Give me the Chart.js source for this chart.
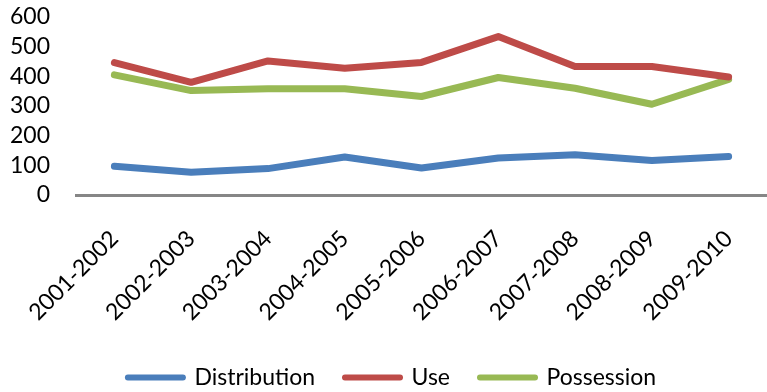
<!doctype html>
<html lang="en">
    <head>
        <meta charset="utf-8">
        <title>Offences by year</title>
        <script src="https://cdn.jsdelivr.net/npm/chart.js@4.4.1/dist/chart.umd.min.js"></script>
        <style>
            body { margin: 0; background: #fff; }
            #wrap { width: 767px; height: 392px; }
        </style>
    </head>
    <body>
        <div id="wrap"><canvas id="myChart"></canvas></div>
        <script>
            var years = ["2001-2002", "2002-2003", "2003-2004", "2004-2005", "2005-2006",
                         "2006-2007", "2007-2008", "2008-2009", "2009-2010"];
            var distribution = [97, 77, 89, 128, 91, 125, 136, 116, 130];
            var use = [446, 380, 452, 427, 447, 534, 433, 433, 398];
            var possession = [405, 352, 358, 358, 332, 396, 360, 306, 390];
            var yTicks = [0, 100, 200, 300, 400, 500, 600];

            var font = "Lato";

            function line(label, data, color) {
                return {
                    label: label,
                    data: data,
                    borderColor: color,
                    backgroundColor: color,
                    borderWidth: 7,
                    pointRadius: 0,
                    pointHoverRadius: 0,
                    tension: 0,
                    fill: false,
                    borderJoinStyle: "round",
                    borderCapStyle: "round"
                };
            }

            var ctx = document.getElementById("myChart").getContext("2d");
            var myChart = new Chart(ctx, {
                type: "line",
                data: {
                    labels: years,
                    datasets: [
                        line("Distribution", distribution, "#4a7ebb"),
                        line("Use", use, "#be4b48"),
                        line("Possession", possession, "#98b954")
                    ]
                },
                options: {
                    responsive: true,
                    maintainAspectRatio: false,
                    animation: false,
                    layout: { padding: { top: 0, left: 10, right: -7, bottom: -7 } },
                    scales: {
                        x: {
                            offset: true,
                            // fixed band for the slanted year labels
                            afterFit: function (scale) {
                                scale.paddingLeft = 0;
                                scale.paddingRight = 0;
                                scale.height = 141;
                            },
                            grid: { display: false, drawTicks: false },
                            border: { display: true, color: "#868686", width: 3 },
                            ticks: {
                                color: "#000",
                                font: { family: font, size: 23 },
                                minRotation: 45,
                                maxRotation: 45,
                                padding: 30,
                                autoSkip: false
                            }
                        },
                        y: {
                            min: 0,
                            max: 600,
                            afterBuildTicks: function (axis) {
                                axis.ticks = yTicks.map(function (v) { return { value: v }; });
                            },
                            afterFit: function (scale) {
                                scale.width = 66;
                                scale.paddingTop = 17;
                                scale.paddingBottom = 0;
                            },
                            grid: { display: false, drawTicks: false },
                            border: { display: false },
                            ticks: {
                                color: "#000",
                                font: { family: font, size: 23 },
                                padding: 26,
                                autoSkip: false
                            }
                        }
                    },
                    plugins: {
                        tooltip: { enabled: false },
                        legend: {
                            position: "bottom",
                            labels: {
                                color: "#000",
                                font: { family: font, size: 23 },
                                usePointStyle: true,
                                pointStyle: "line",
                                pointStyleWidth: 55,
                                padding: 30,
                                generateLabels: function (chart) {
                                    return chart.data.datasets.map(function (ds, i) {
                                        return {
                                            text: ds.label,
                                            fillStyle: ds.borderColor,
                                            strokeStyle: ds.borderColor,
                                            lineWidth: 6,
                                            lineCap: "round",
                                            pointStyle: "line",
                                            fontColor: "#000",
                                            hidden: false,
                                            datasetIndex: i
                                        };
                                    });
                                }
                            }
                        }
                    }
                }
            });
        </script>
    </body>
</html>
